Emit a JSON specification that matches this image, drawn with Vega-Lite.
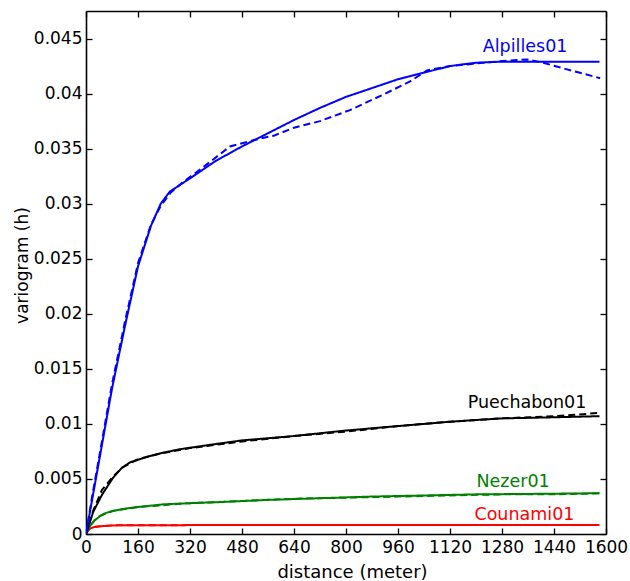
{
  "$schema": "https://vega.github.io/schema/vega-lite/v6.json",
  "width": 520,
  "height": 523,
  "autosize": "none",
  "padding": {"left": 86, "top": 11, "right": 24, "bottom": 47},
  "config": {
    "view": {"stroke": null},
    "font": "DejaVu Sans",
    "axis": {
      "domainColor": "#000000",
      "domainWidth": 1.6,
      "tickColor": "#000000",
      "tickWidth": 1.3,
      "tickSize": -6,
      "labelColor": "#000000",
      "labelFont": "DejaVu Sans",
      "labelFontSize": 17,
      "titleFont": "DejaVu Sans",
      "titleFontSize": 18,
      "titleFontWeight": "normal",
      "titleColor": "#000000",
      "grid": false
    }
  },
  "datasets": {
    "curves": [
      {"s":"Counami01","t":"model","d":0,"v":0},
      {"s":"Counami01","t":"model","d":6,"v":0.0003},
      {"s":"Counami01","t":"model","d":12,"v":0.0005},
      {"s":"Counami01","t":"model","d":25,"v":0.00063},
      {"s":"Counami01","t":"model","d":43,"v":0.0007},
      {"s":"Counami01","t":"model","d":83,"v":0.00078},
      {"s":"Counami01","t":"model","d":160,"v":0.0008},
      {"s":"Counami01","t":"model","d":400,"v":0.00081},
      {"s":"Counami01","t":"model","d":800,"v":0.00082},
      {"s":"Counami01","t":"model","d":1580,"v":0.00082},
      {"s":"Counami01","t":"exp","d":0,"v":0},
      {"s":"Counami01","t":"exp","d":6,"v":0.0003},
      {"s":"Counami01","t":"exp","d":12,"v":0.0005},
      {"s":"Counami01","t":"exp","d":25,"v":0.00064},
      {"s":"Counami01","t":"exp","d":43,"v":0.0007},
      {"s":"Counami01","t":"exp","d":83,"v":0.00079},
      {"s":"Counami01","t":"exp","d":160,"v":0.0008},
      {"s":"Counami01","t":"exp","d":400,"v":0.00081},
      {"s":"Counami01","t":"exp","d":800,"v":0.00082},
      {"s":"Counami01","t":"exp","d":1580,"v":0.00082},
      {"s":"Nezer01","t":"model","d":0,"v":0},
      {"s":"Nezer01","t":"model","d":12,"v":0.0007},
      {"s":"Nezer01","t":"model","d":25,"v":0.0012},
      {"s":"Nezer01","t":"model","d":43,"v":0.00162},
      {"s":"Nezer01","t":"model","d":60,"v":0.0019},
      {"s":"Nezer01","t":"model","d":83,"v":0.0021},
      {"s":"Nezer01","t":"model","d":120,"v":0.0023},
      {"s":"Nezer01","t":"model","d":160,"v":0.00245},
      {"s":"Nezer01","t":"model","d":240,"v":0.0027},
      {"s":"Nezer01","t":"model","d":320,"v":0.0028},
      {"s":"Nezer01","t":"model","d":412,"v":0.0029},
      {"s":"Nezer01","t":"model","d":560,"v":0.0031},
      {"s":"Nezer01","t":"model","d":720,"v":0.00325},
      {"s":"Nezer01","t":"model","d":880,"v":0.0034},
      {"s":"Nezer01","t":"model","d":1040,"v":0.0035},
      {"s":"Nezer01","t":"model","d":1200,"v":0.0036},
      {"s":"Nezer01","t":"model","d":1400,"v":0.00365},
      {"s":"Nezer01","t":"model","d":1580,"v":0.0037},
      {"s":"Nezer01","t":"exp","d":0,"v":0},
      {"s":"Nezer01","t":"exp","d":12,"v":0.0007},
      {"s":"Nezer01","t":"exp","d":25,"v":0.0012},
      {"s":"Nezer01","t":"exp","d":43,"v":0.00165},
      {"s":"Nezer01","t":"exp","d":83,"v":0.0021},
      {"s":"Nezer01","t":"exp","d":160,"v":0.00245},
      {"s":"Nezer01","t":"exp","d":320,"v":0.0028},
      {"s":"Nezer01","t":"exp","d":480,"v":0.003},
      {"s":"Nezer01","t":"exp","d":640,"v":0.0032},
      {"s":"Nezer01","t":"exp","d":800,"v":0.0033},
      {"s":"Nezer01","t":"exp","d":960,"v":0.0034},
      {"s":"Nezer01","t":"exp","d":1120,"v":0.0035},
      {"s":"Nezer01","t":"exp","d":1280,"v":0.0036},
      {"s":"Nezer01","t":"exp","d":1440,"v":0.0036},
      {"s":"Nezer01","t":"exp","d":1580,"v":0.0037},
      {"s":"Puechabon01","t":"model","d":0,"v":0},
      {"s":"Puechabon01","t":"model","d":22,"v":0.002},
      {"s":"Puechabon01","t":"model","d":50,"v":0.0036},
      {"s":"Puechabon01","t":"model","d":83,"v":0.0051},
      {"s":"Puechabon01","t":"model","d":110,"v":0.006},
      {"s":"Puechabon01","t":"model","d":135,"v":0.0065},
      {"s":"Puechabon01","t":"model","d":187,"v":0.007},
      {"s":"Puechabon01","t":"model","d":240,"v":0.0074},
      {"s":"Puechabon01","t":"model","d":289,"v":0.0077},
      {"s":"Puechabon01","t":"model","d":406,"v":0.0082},
      {"s":"Puechabon01","t":"model","d":480,"v":0.0085},
      {"s":"Puechabon01","t":"model","d":640,"v":0.0089},
      {"s":"Puechabon01","t":"model","d":800,"v":0.0094},
      {"s":"Puechabon01","t":"model","d":960,"v":0.0098},
      {"s":"Puechabon01","t":"model","d":1120,"v":0.0102},
      {"s":"Puechabon01","t":"model","d":1280,"v":0.0105},
      {"s":"Puechabon01","t":"model","d":1440,"v":0.0106},
      {"s":"Puechabon01","t":"model","d":1580,"v":0.0107},
      {"s":"Puechabon01","t":"exp","d":0,"v":0},
      {"s":"Puechabon01","t":"exp","d":22,"v":0.0021},
      {"s":"Puechabon01","t":"exp","d":49,"v":0.004},
      {"s":"Puechabon01","t":"exp","d":83,"v":0.0052},
      {"s":"Puechabon01","t":"exp","d":110,"v":0.006},
      {"s":"Puechabon01","t":"exp","d":160,"v":0.0068},
      {"s":"Puechabon01","t":"exp","d":228,"v":0.0073},
      {"s":"Puechabon01","t":"exp","d":320,"v":0.0078},
      {"s":"Puechabon01","t":"exp","d":400,"v":0.0081},
      {"s":"Puechabon01","t":"exp","d":480,"v":0.0084},
      {"s":"Puechabon01","t":"exp","d":640,"v":0.0089},
      {"s":"Puechabon01","t":"exp","d":800,"v":0.0093},
      {"s":"Puechabon01","t":"exp","d":960,"v":0.0098},
      {"s":"Puechabon01","t":"exp","d":1120,"v":0.0102},
      {"s":"Puechabon01","t":"exp","d":1280,"v":0.0105},
      {"s":"Puechabon01","t":"exp","d":1440,"v":0.0107},
      {"s":"Puechabon01","t":"exp","d":1582,"v":0.011},
      {"s":"Alpilles01","t":"model","d":0,"v":0},
      {"s":"Alpilles01","t":"model","d":40,"v":0.0066},
      {"s":"Alpilles01","t":"model","d":80,"v":0.0132},
      {"s":"Alpilles01","t":"model","d":120,"v":0.0189},
      {"s":"Alpilles01","t":"model","d":160,"v":0.0243},
      {"s":"Alpilles01","t":"model","d":200,"v":0.028},
      {"s":"Alpilles01","t":"model","d":230,"v":0.03},
      {"s":"Alpilles01","t":"model","d":258,"v":0.0311},
      {"s":"Alpilles01","t":"model","d":320,"v":0.0323},
      {"s":"Alpilles01","t":"model","d":400,"v":0.0339},
      {"s":"Alpilles01","t":"model","d":480,"v":0.0352},
      {"s":"Alpilles01","t":"model","d":560,"v":0.0364},
      {"s":"Alpilles01","t":"model","d":640,"v":0.0376},
      {"s":"Alpilles01","t":"model","d":720,"v":0.0387},
      {"s":"Alpilles01","t":"model","d":800,"v":0.0397},
      {"s":"Alpilles01","t":"model","d":880,"v":0.0405},
      {"s":"Alpilles01","t":"model","d":960,"v":0.0413},
      {"s":"Alpilles01","t":"model","d":1040,"v":0.0419},
      {"s":"Alpilles01","t":"model","d":1120,"v":0.0425},
      {"s":"Alpilles01","t":"model","d":1200,"v":0.0428},
      {"s":"Alpilles01","t":"model","d":1280,"v":0.0429},
      {"s":"Alpilles01","t":"model","d":1400,"v":0.0429},
      {"s":"Alpilles01","t":"model","d":1580,"v":0.0429},
      {"s":"Alpilles01","t":"exp","d":0,"v":0},
      {"s":"Alpilles01","t":"exp","d":20,"v":0.0036},
      {"s":"Alpilles01","t":"exp","d":40,"v":0.0069},
      {"s":"Alpilles01","t":"exp","d":80,"v":0.0136},
      {"s":"Alpilles01","t":"exp","d":120,"v":0.0193},
      {"s":"Alpilles01","t":"exp","d":160,"v":0.0246},
      {"s":"Alpilles01","t":"exp","d":200,"v":0.0281},
      {"s":"Alpilles01","t":"exp","d":230,"v":0.0298},
      {"s":"Alpilles01","t":"exp","d":260,"v":0.031},
      {"s":"Alpilles01","t":"exp","d":300,"v":0.032},
      {"s":"Alpilles01","t":"exp","d":360,"v":0.0333},
      {"s":"Alpilles01","t":"exp","d":443,"v":0.0352},
      {"s":"Alpilles01","t":"exp","d":520,"v":0.0358},
      {"s":"Alpilles01","t":"exp","d":580,"v":0.0362},
      {"s":"Alpilles01","t":"exp","d":640,"v":0.0369},
      {"s":"Alpilles01","t":"exp","d":720,"v":0.0375},
      {"s":"Alpilles01","t":"exp","d":812,"v":0.0385},
      {"s":"Alpilles01","t":"exp","d":914,"v":0.0399},
      {"s":"Alpilles01","t":"exp","d":997,"v":0.0411},
      {"s":"Alpilles01","t":"exp","d":1049,"v":0.0421},
      {"s":"Alpilles01","t":"exp","d":1120,"v":0.0425},
      {"s":"Alpilles01","t":"exp","d":1222,"v":0.0428},
      {"s":"Alpilles01","t":"exp","d":1300,"v":0.043},
      {"s":"Alpilles01","t":"exp","d":1357,"v":0.0431},
      {"s":"Alpilles01","t":"exp","d":1406,"v":0.0428},
      {"s":"Alpilles01","t":"exp","d":1480,"v":0.0422},
      {"s":"Alpilles01","t":"exp","d":1582,"v":0.0414}
    ],
    "labels": [
      {"s":"Alpilles01","d":1351,"v":0.04427},
      {"s":"Puechabon01","d":1357,"v":0.0119},
      {"s":"Nezer01","d":1314,"v":0.00473},
      {"s":"Counami01","d":1349,"v":0.00173}
    ]
  },
  "layer": [
    {
      "data": {"name": "curves"},
      "mark": {"type": "line", "strokeWidth": 2, "clip": true},
      "encoding": {
        "x": {
          "field": "d", "type": "quantitative",
          "scale": {"domain": [0, 1600], "nice": false},
          "axis": {
            "orient": "bottom",
            "values": [0,160,320,480,640,800,960,1120,1280,1440,1600],
            "format": "d",
            "labelPadding": 11,
            "labelFlush": false,
            "labelOverlap": false,
            "title": "distance (meter)",
            "titleX": 266,
            "titleY": 38,
            "titleBaseline": "middle"
          }
        },
        "y": {
          "field": "v", "type": "quantitative",
          "scale": {"domain": [0, 0.0475], "nice": false, "zero": true},
          "axis": {
            "orient": "left",
            "values": [0,0.005,0.01,0.015,0.02,0.025,0.03,0.035,0.04,0.045],
            "format": ".3~f",
            "labelPadding": 10,
            "labelFlush": false,
            "labelOverlap": false,
            "title": "variogram (h)",
            "titleFontSize": 17,
            "titleX": -64,
            "titleY": 254,
            "titleAngle": -90,
            "titleAlign": "center",
            "titleBaseline": "middle"
          }
        },
        "color": {
          "field": "s", "type": "nominal",
          "scale": {"domain": ["Counami01","Nezer01","Puechabon01","Alpilles01"], "range": ["#ff0000","#008000","#000000","#0000ff"]},
          "legend": null
        },
        "strokeDash": {
          "field": "t", "type": "nominal",
          "scale": {"domain": ["model","exp"], "range": [[1,0],[7,4]]},
          "legend": null
        },
        "order": {"field": "d", "type": "quantitative"}
      }
    },
    {
      "data": {"name": "labels"},
      "mark": {"type": "text", "fontSize": 17.5, "font": "DejaVu Sans", "align": "center", "baseline": "middle"},
      "encoding": {
        "x": {
          "field": "d", "type": "quantitative",
          "axis": {"orient": "top", "values": [0,160,320,480,640,800,960,1120,1280,1440,1600], "labels": false, "title": null}
        },
        "y": {
          "field": "v", "type": "quantitative",
          "axis": {"orient": "right", "values": [0,0.005,0.01,0.015,0.02,0.025,0.03,0.035,0.04,0.045], "labels": false, "title": null}
        },
        "text": {"field": "s", "type": "nominal"},
        "color": {"field": "s", "type": "nominal", "legend": null}
      }
    }
  ],
  "resolve": {"axis": {"x": "independent", "y": "independent"}}
}
